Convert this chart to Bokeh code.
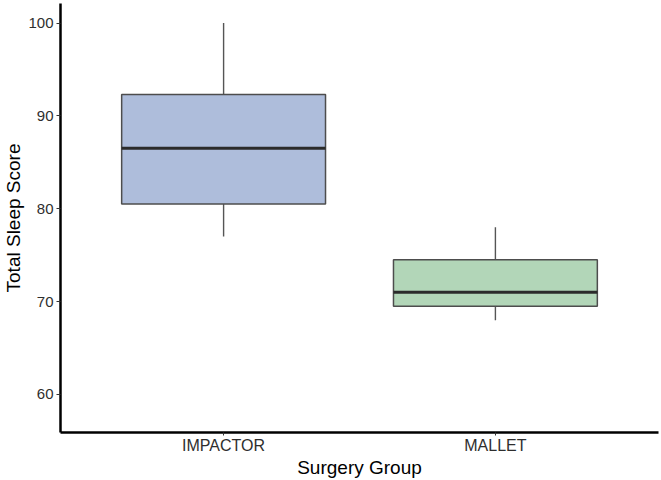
from bokeh.plotting import figure
from bokeh.models import Range1d, FixedTicker, ColumnDataSource
from bokeh.embed import file_html
from bokeh.resources import INLINE

# Five-number summaries of the total sleep score per surgery group
groups = ["IMPACTOR", "MALLET"]
whisker_low = [77.0, 68.0]
q1 = [80.5, 69.5]
median = [86.5, 71.0]
q3 = [92.3, 74.5]
whisker_high = [100.0, 78.0]
fill_colors = ["#AEBDDB", "#B2D6B8"]

y_ticks = [60, 70, 80, 90, 100]

FONT = "Liberation Sans"
box_width = 0.75
pos = [i + 1 for i in range(len(groups))]

src = ColumnDataSource(dict(
    x=pos,
    x0=[x - box_width / 2 for x in pos],
    x1=[x + box_width / 2 for x in pos],
    lo=whisker_low, q1=q1, med=median, q3=q3, hi=whisker_high,
    color=fill_colors,
))

p = figure(
    width=661, height=480,
    x_range=Range1d(0.4, len(groups) + 0.6),
    y_range=Range1d(55.9, 102.1),
    output_backend="svg", toolbar_location=None,
    min_border_left=60, min_border_right=3,
    min_border_top=3, min_border_bottom=48,
)
p.outline_line_color = None
p.xgrid.visible = False
p.ygrid.visible = False
p.background_fill_color = "white"
p.border_fill_color = "white"

# whiskers
p.segment(x0="x", x1="x", y0="lo", y1="q1", source=src,
          line_color="#555555", line_width=1.4)
p.segment(x0="x", x1="x", y0="q3", y1="hi", source=src,
          line_color="#555555", line_width=1.4)

# boxes
p.vbar(x="x", width=box_width, bottom="q1", top="q3", source=src,
       fill_color="color", line_color="#4D4D4D", line_width=1.5)

# medians
p.segment(x0="x0", x1="x1", y0="med", y1="med", source=src,
          line_color="#2B2B2B", line_width=3)

# axes
p.xaxis.ticker = FixedTicker(ticks=pos)
p.xaxis.major_label_overrides = {x: g for x, g in zip(pos, groups)}
p.yaxis.ticker = FixedTicker(ticks=y_ticks)

for ax in (p.xaxis[0], p.yaxis[0]):
    ax.axis_line_color = "black"
    ax.axis_line_width = 2.5
    ax.major_tick_line_color = "#333333"
    ax.major_tick_line_width = 1
    ax.major_tick_in = 0
    ax.minor_tick_line_color = None
    ax.major_label_text_font = FONT
    ax.major_label_text_color = "#2E2E2E"
    ax.axis_label_text_font = FONT
    ax.axis_label_text_font_style = "normal"
    ax.axis_label_text_color = "black"
    ax.axis_label_text_font_size = "19px"

p.xaxis.axis_label = "Surgery Group"
p.yaxis.axis_label = "Total Sleep Score"
p.xaxis.major_tick_out = 3
p.yaxis.major_tick_out = 4
p.xaxis.major_label_text_font_size = "16px"
p.yaxis.major_label_text_font_size = "15px"
p.xaxis.major_label_standoff = 1
p.yaxis.major_label_standoff = 3
p.xaxis.axis_label_standoff = 0
p.yaxis.axis_label_standoff = 1

open("out.html", "w").write(file_html(p, INLINE))
